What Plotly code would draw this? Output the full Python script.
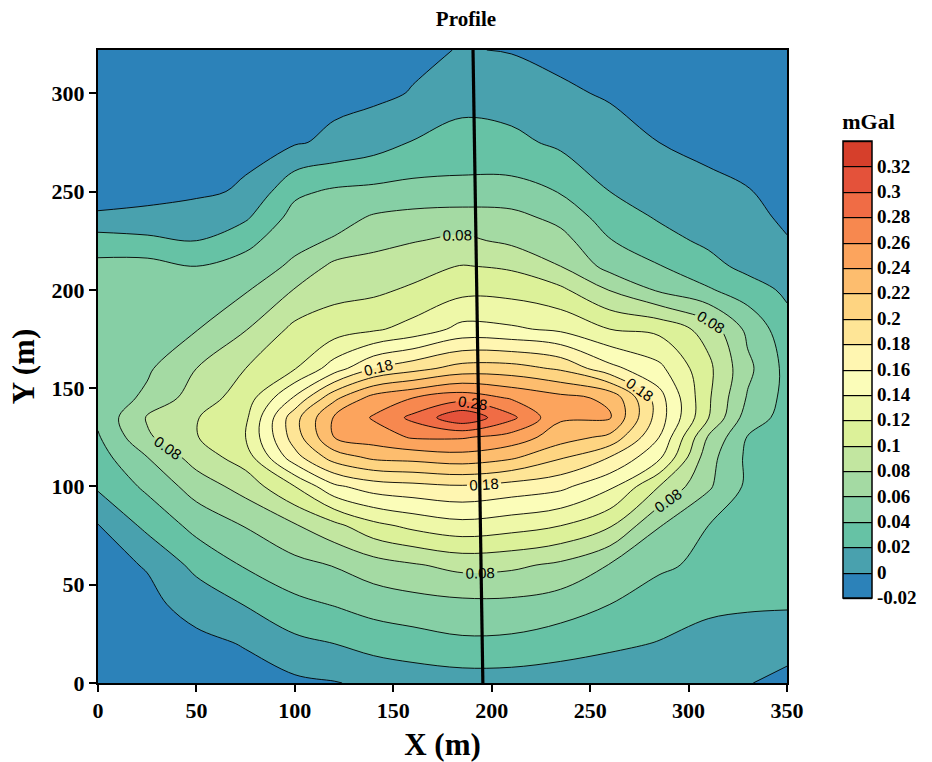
import plotly.graph_objects as go

# ---------------- data ----------------
x_m = [0, 25, 50, 75, 100, 120, 140, 160, 185, 210, 235, 260, 285, 310, 330, 350]
y_m = [0, 20, 40, 60, 80, 100, 115, 125, 135, 145, 160, 180, 200, 212, 225, 237, 250, 275, 300, 322]

# gravity anomaly (mGal); one row per y value, one column per x value
anomaly_mgal = [
    [-0.016, -0.013, -0.010, -0.006, -0.004, -0.001, 0.004, 0.008, 0.010, 0.010, 0.009, 0.006, 0.003, 0.001, 0.001, -0.006],
    [-0.013, -0.009, -0.004, 0.001, 0.015, 0.020, 0.027, 0.031, 0.036, 0.035, 0.029, 0.024, 0.019, 0.013, 0.012, 0.008],
    [-0.009, -0.004, 0.006, 0.021, 0.035, 0.041, 0.048, 0.052, 0.055, 0.055, 0.050, 0.040, 0.031, 0.024, 0.022, 0.022],
    [-0.005, 0.001, 0.026, 0.042, 0.054, 0.061, 0.071, 0.078, 0.086, 0.084, 0.076, 0.059, 0.043, 0.036, 0.027, 0.026],
    [-0.001, 0.025, 0.046, 0.061, 0.078, 0.094, 0.114, 0.125, 0.133, 0.128, 0.120, 0.102, 0.061, 0.040, 0.030, 0.028],
    [0.023, 0.044, 0.069, 0.088, 0.120, 0.156, 0.170, 0.174, 0.178, 0.172, 0.165, 0.144, 0.100, 0.063, 0.036, 0.030],
    [0.032, 0.060, 0.089, 0.110, 0.173, 0.210, 0.225, 0.228, 0.233, 0.224, 0.203, 0.180, 0.145, 0.068, 0.036, 0.031],
    [0.038, 0.077, 0.099, 0.120, 0.190, 0.240, 0.250, 0.262, 0.262, 0.252, 0.229, 0.215, 0.160, 0.078, 0.039, 0.032],
    [0.044, 0.082, 0.099, 0.116, 0.193, 0.242, 0.262, 0.285, 0.316, 0.285, 0.243, 0.242, 0.170, 0.101, 0.050, 0.033],
    [0.047, 0.064, 0.090, 0.109, 0.163, 0.215, 0.248, 0.260, 0.272, 0.258, 0.246, 0.236, 0.168, 0.103, 0.058, 0.034],
    [0.050, 0.057, 0.080, 0.100, 0.119, 0.150, 0.180, 0.193, 0.208, 0.208, 0.197, 0.166, 0.145, 0.105, 0.065, 0.034],
    [0.051, 0.054, 0.059, 0.079, 0.105, 0.110, 0.117, 0.127, 0.146, 0.143, 0.136, 0.120, 0.115, 0.092, 0.055, 0.028],
    [0.048, 0.048, 0.046, 0.058, 0.081, 0.094, 0.096, 0.103, 0.114, 0.113, 0.104, 0.079, 0.057, 0.042, 0.030, 0.016],
    [0.045, 0.047, 0.040, 0.048, 0.064, 0.085, 0.086, 0.092, 0.101, 0.097, 0.080, 0.053, 0.041, 0.027, 0.014, 0.009],
    [0.030, 0.025, 0.020, 0.034, 0.054, 0.062, 0.075, 0.079, 0.084, 0.076, 0.067, 0.041, 0.027, 0.016, 0.010, 0.001],
    [0.002, 0.004, 0.008, 0.017, 0.047, 0.052, 0.062, 0.066, 0.069, 0.066, 0.054, 0.030, 0.018, 0.010, 0.005, -0.003],
    [-0.006, -0.005, -0.003, 0.002, 0.036, 0.043, 0.045, 0.047, 0.046, 0.047, 0.039, 0.020, 0.012, 0.005, 0.001, -0.008],
    [-0.009, -0.008, -0.007, -0.004, -0.002, 0.004, 0.011, 0.021, 0.028, 0.025, 0.016, 0.008, 0.000, -0.005, -0.007, -0.012],
    [-0.012, -0.011, -0.010, -0.008, -0.006, -0.005, -0.004, 0.001, 0.012, 0.010, 0.003, -0.002, -0.006, -0.009, -0.011, -0.014],
    [-0.014, -0.013, -0.012, -0.011, -0.009, -0.007, -0.006, -0.004, 0.001, -0.001, -0.005, -0.007, -0.010, -0.013, -0.014, -0.016],
]

# profile line end points (m)
profile_x = [190.5, 195.5]
profile_y = [322, 0]

# colour-bar tick labels
cbar_tickvals = [-0.02, 0.0, 0.02, 0.04, 0.06, 0.08, 0.10, 0.12, 0.14, 0.16,
                 0.18, 0.20, 0.22, 0.24, 0.26, 0.28, 0.30, 0.32]
cbar_ticktext = ["-0.02", "0", "0.02", "0.04", "0.06", "0.08", "0.1", "0.12", "0.14", "0.16",
                 "0.18", "0.2", "0.22", "0.24", "0.26", "0.28", "0.3", "0.32"]

x_ticks = [0, 50, 100, 150, 200, 250, 300, 350]
y_ticks = [0, 50, 100, 150, 200, 250, 300]

# ---------------- style ----------------
band_colors = [
    "#2c82b9", "#49a1ae", "#66c2a5", "#86cfa5", "#a4daa3", "#c2e6a0",
    "#dcf199", "#eef8a8", "#fbfdb9", "#fff6b1", "#fee596", "#fed481",
    "#fdbd6e", "#fca45d", "#f7884f", "#f06c45", "#e4523a", "#d63f2b",
]
LV_START, LV_END, LV_STEP = -0.02, 0.34, 0.02
n_bands = len(band_colors)        # 18
n_lv = n_bands + 1                # 19 contour levels

# colour map for the filled contour (plotly samples fills at level + step/2)
fill_scale = [[0.0, band_colors[0]]]
for k, c in enumerate(band_colors):
    fill_scale.append([(k + 1) / n_lv, c])
fill_scale.append([1.0, band_colors[-1]])

# stepped colour map for the colour bar (range exactly -0.02 .. 0.34)
bar_scale = []
for k, c in enumerate(band_colors):
    bar_scale.append([k / n_bands, c])
    bar_scale.append([(k + 1) / n_bands, c])

SERIF = "Liberation Serif"
SMOOTH = 1.0
LINE_W = 0.9

fig = go.Figure()

# filled bands
fig.add_trace(go.Contour(
    x=x_m, y=y_m, z=anomaly_mgal,
    contours=dict(start=LV_START, end=LV_END, size=LV_STEP, coloring="fill", showlines=False),
    colorscale=fill_scale, showscale=False,
    line=dict(width=0, smoothing=SMOOTH), hoverinfo="skip",
))

# unlabelled contour lines (four interleaved sets, step 0.10)
for s in [0.0, 0.02, 0.04, 0.06]:
    fig.add_trace(go.Contour(
        x=x_m, y=y_m, z=anomaly_mgal,
        contours=dict(start=s, end=s + 0.301, size=0.10, coloring="none"),
        line=dict(color="black", width=LINE_W, smoothing=SMOOTH),
        showscale=False, hoverinfo="skip",
    ))

# labelled contour lines 0.08, 0.18, 0.28 (extra empty levels above the data
# only make plotly place labels more densely along each line)
fig.add_trace(go.Contour(
    x=x_m, y=y_m, z=anomaly_mgal,
    contours=dict(start=0.08, end=5.485, size=0.10, coloring="none",
                  showlabels=True, labelformat=".2f",
                  labelfont=dict(family="Liberation Sans", size=15, color="black")),
    line=dict(color="black", width=LINE_W, smoothing=SMOOTH),
    showscale=False, hoverinfo="skip",
))

# profile line
fig.add_trace(go.Scatter(
    x=profile_x, y=profile_y, mode="lines",
    line=dict(color="black", width=3.2), showlegend=False, hoverinfo="skip",
))

# colour bar carrier (drawn on hidden overlay axes, outside their range)
bar_top_px = 110.5
fig.add_trace(go.Contour(
    x=[0, 1], y=[0, 1], z=[[LV_START, LV_END], [LV_END, LV_START]],
    xaxis="x2", yaxis="y2",
    zmin=LV_START, zmax=LV_END, zauto=False,
    contours=dict(start=LV_START, end=LV_END, size=LV_STEP, coloring="heatmap", showlines=True),
    line=dict(color="black", width=1.2),
    colorscale=bar_scale, showscale=True, hoverinfo="skip",
    colorbar=dict(
        x=(843 - 98) / 689, xanchor="left", y=(683 - bar_top_px) / 633, yanchor="top",
        len=597 - bar_top_px, lenmode="pixels", thickness=29, thicknessmode="pixels",
        xpad=0, ypad=0, outlinecolor="black", outlinewidth=1.5,
        tickmode="array", tickvals=cbar_tickvals, ticktext=cbar_ticktext, ticks="",
        tickfont=dict(family=SERIF, size=19, color="black", weight="bold"),
        title=dict(text="mGal", side="top",
                   font=dict(family=SERIF, size=22, color="black", weight="bold")),
    ),
))

axis_common = dict(
    showline=True, mirror=True, linecolor="black", linewidth=2,
    ticks="outside", ticklen=7, tickwidth=2, tickcolor="black",
    showgrid=False, zeroline=False, automargin=False,
    tickfont=dict(family=SERIF, size=22, color="black", weight="bold"),
)

fig.update_layout(
    width=932, height=762,
    margin=dict(l=98, r=145, t=50, b=79),
    paper_bgcolor="white", plot_bgcolor="white",
    showlegend=False,
    title=dict(text="Profile", x=0.5, xanchor="center", y=1 - 19 / 762, yanchor="middle",
               font=dict(family=SERIF, size=21, color="black", weight="bold")),
    xaxis=dict(range=[0, 350], tickvals=x_ticks, **axis_common,
               title=dict(text="X (m)", standoff=14,
                          font=dict(family=SERIF, size=31, color="black", weight="bold"))),
    yaxis=dict(range=[0, 322], tickvals=y_ticks, **axis_common,
               title=dict(text="Y (m)", standoff=8,
                          font=dict(family=SERIF, size=31, color="black", weight="bold"))),
    xaxis2=dict(overlaying="x", anchor="y2", visible=False, range=[100, 101]),
    yaxis2=dict(overlaying="y", anchor="x2", visible=False, range=[100, 101]),
)

fig.write_html("out.html")
